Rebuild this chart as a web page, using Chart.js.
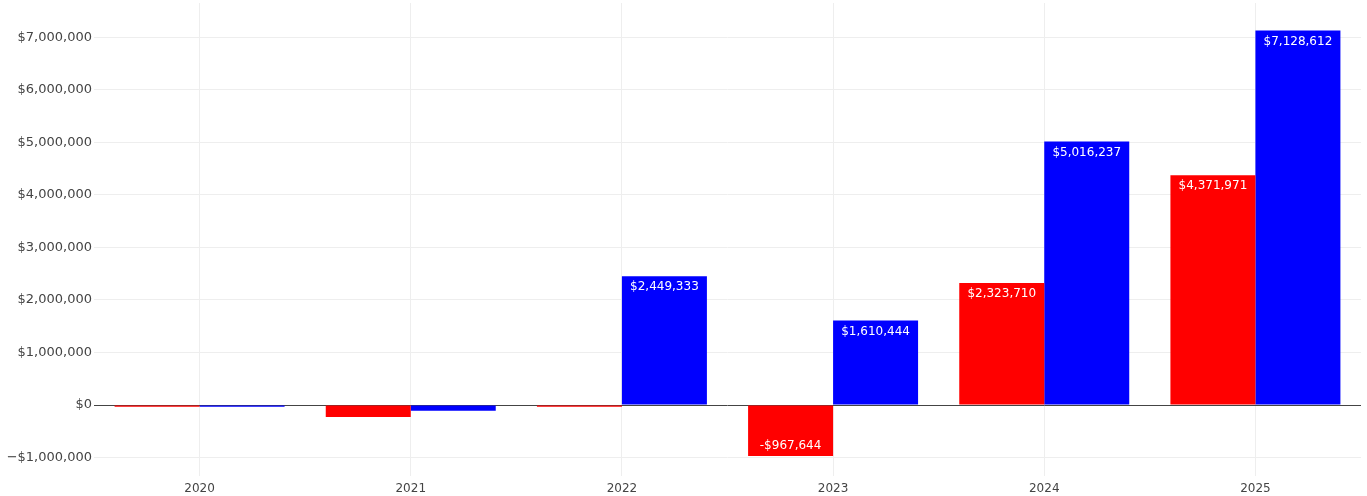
<!DOCTYPE html>
<html>
<head>
<meta charset="utf-8">
<script src="https://cdn.jsdelivr.net/npm/chart.js@4"></script>
<style>
html,body{margin:0;padding:0;background:#fff;}
#wrap{width:1367px;height:496px;position:relative;}
</style>
</head>
<body>
<div id="wrap"><canvas id="c" width="1367" height="496"></canvas></div>
<script>
const categories = ["2020", "2021", "2022", "2023", "2024", "2025"];
const redValues = [-30000, -228000, -30000, -967644, 2323710, 4371971];
const blueValues = [-30000, -108000, 2449333, 1610444, 5016237, 7128612];
const yTickValues = [-1000000, 0, 1000000, 2000000, 3000000, 4000000, 5000000, 6000000, 7000000];

const fmt = v => (v < 0 ? "-$" : "$") + Math.abs(Math.round(v)).toLocaleString("en-US");
const fmtTick = v => (v < 0 ? "\u2212$" : "$") + Math.abs(Math.round(v)).toLocaleString("en-US");

const barLabels = {
  id: "barLabels",
  afterDatasetsDraw(chart) {
    const ctx = chart.ctx;
    ctx.save();
    ctx.font = "12px 'DejaVu Sans'";
    ctx.fillStyle = "#ffffff";
    ctx.textAlign = "center";
    ctx.textBaseline = "middle";
    chart.data.datasets.forEach((ds, di) => {
      const meta = chart.getDatasetMeta(di);
      meta.data.forEach((bar, i) => {
        const v = ds.data[i];
        const h = Math.abs(bar.base - bar.y);
        if (h < 30) return;
        const y = v >= 0 ? bar.y + 11 : bar.y - 10;
        ctx.fillText(fmt(v), bar.x, y);
      });
    });
    ctx.restore();
  }
};

new Chart(document.getElementById("c"), {
  type: "bar",
  data: {
    labels: categories,
    datasets: [
      { label: "Series 1", data: redValues, backgroundColor: "#ff0000", borderWidth: 0 },
      { label: "Series 2", data: blueValues, backgroundColor: "#0000ff", borderWidth: 0 }
    ]
  },
  options: {
    responsive: false,
    animation: false,
    devicePixelRatio: 1,
    layout: { padding: { left: 0, right: 6, top: 3, bottom: 0 } },
    plugins: { legend: { display: false }, tooltip: { enabled: false } },
    datasets: { bar: { categoryPercentage: 0.805, barPercentage: 1.0 } },
    scales: {
      x: {
        grid: { offset: false, color: "#eeeeee", drawTicks: false },
        border: { display: false },
        ticks: { color: "#444", font: { family: "DejaVu Sans", size: 12 }, padding: 6, maxRotation: 0 },
        afterFit(s) { s.height = 20; s.paddingLeft = 0; s.paddingRight = 0; }
      },
      y: {
        min: -1350000,
        max: 7650000,
        afterBuildTicks(s) { s.ticks = yTickValues.map(v => ({ value: v })); },
        grid: {
          drawTicks: false,
          color: c => (c.tick && c.tick.value === 0 ? "#444444" : "#eeeeee"),
          lineWidth: 1
        },
        border: { display: false },
        ticks: { color: "#444", font: { family: "DejaVu Sans", size: 13 }, padding: 2, callback: v => fmtTick(v) },
        afterFit(s) { s.width = 94; s.paddingTop = 0; s.paddingBottom = 0; }
      }
    }
  },
  plugins: [barLabels]
});
</script>
</body>
</html>
